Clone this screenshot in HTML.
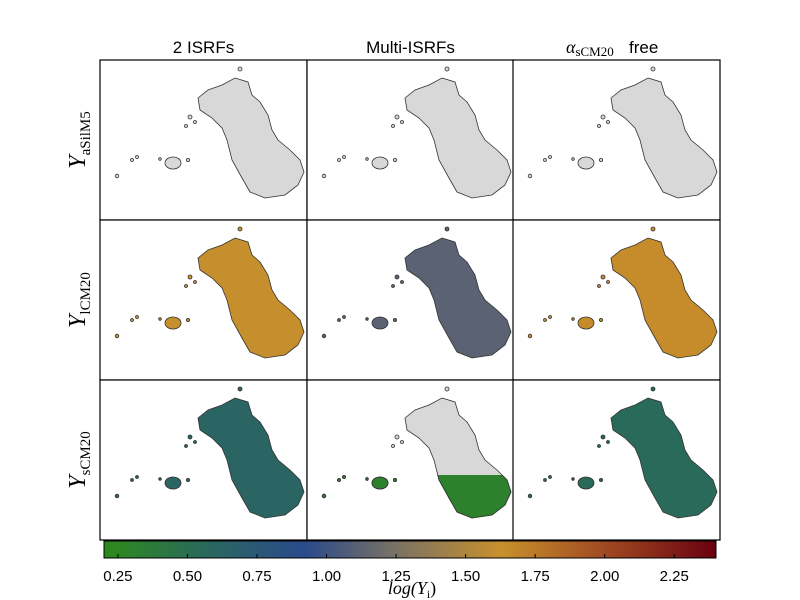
<!DOCTYPE html>
<html><head><meta charset="utf-8"><style>
body{margin:0;background:#fff;}
svg{display:block;font-family:"Liberation Sans",sans-serif;}
</style></head><body>
<svg id="fig" width="800" height="600" viewBox="0 0 800 600">
<defs>
<linearGradient id="cmap" x1="0" x2="1" y1="0" y2="0"></linearGradient>
<g id="mapshape">
<path d="M135,18 L148,22 L152,35 L160,42 L168,55 L172,70 L178,80 L190,90 L200,100 L204,112 L198,125 L185,135 L165,138 L150,132 L142,118 L132,100 L127,80 L122,68 L112,58 L100,50 L98,38 L108,30 L122,25 Z"/>
<ellipse cx="73" cy="103" rx="8" ry="6"/>
<circle cx="17" cy="116" r="1.8"/><circle cx="32" cy="100" r="1.5"/><circle cx="37" cy="97" r="1.5"/>
<circle cx="90" cy="57" r="2"/><circle cx="95" cy="62" r="1.5"/><circle cx="86" cy="66" r="1.5"/>
<circle cx="60" cy="99" r="1.3"/><circle cx="88" cy="100" r="1.6"/><circle cx="140" cy="9" r="2"/>
</g>
<clipPath id="lowerclip"><rect x="0" y="95" width="207" height="65"/></clipPath>
</defs>
<g id="panels"></g>
<g id="labels"></g>
<rect x="104" y="541" width="612" height="17" fill="url(#cmap)" stroke="#000" stroke-width="1"/>
<g id="cbticks"></g>
<text x="412" y="594" text-anchor="middle" font-family="Liberation Serif,serif" font-style="italic" font-size="18">log(Y<tspan font-style="normal" font-size="12" dy="4">i</tspan><tspan dy="-4" font-style="normal">)</tspan></text>
</svg>
<script>
const cbTicks=[0.25,0.5,0.75,1.0,1.25,1.5,1.75,2.0,2.25];
const colTitles=["2 ISRFs","Multi-ISRFs"];
const rowNames=["aSilM5","lCM20","sCM20"];
const panelValues=[[null,null,null],[1.62,1.12,1.65],[0.62,null,0.55]];
const lowerValues=[[null,null,null],[null,null,null],[null,0.3,null]];
const vmin=0.2,vmax=2.4;
const stops=[[0.2,"#2e8a1a"],[0.55,"#2a6a5a"],[0.92,"#2a4a8c"],[1.25,"#7a7264"],[1.63,"#c8902c"],[2.0,"#a04a22"],[2.4,"#6a0010"]];
const NS="http://www.w3.org/2000/svg";
function xCb(v){return 104+(v-vmin)/(vmax-vmin)*612;}
function hex(h){return [1,3,5].map(i=>parseInt(h.substr(i,2),16));}
function cmap(v){for(let i=1;i<stops.length;i++){if(v<=stops[i][0]){const a=stops[i-1],b=stops[i];const t=(v-a[0])/(b[0]-a[0]);const c1=hex(a[1]),c2=hex(b[1]);return "rgb("+c1.map((c,k)=>Math.round(c+(c2[k]-c)*t)).join(",")+")";}}return stops[stops.length-1][1];}
const grad=document.getElementById("cmap");
stops.forEach(s=>{const st=document.createElementNS(NS,"stop");st.setAttribute("offset",((s[0]-vmin)/(vmax-vmin)));st.setAttribute("stop-color",s[1]);grad.appendChild(st);});
const cbt=document.getElementById("cbticks");
cbTicks.forEach(v=>{const x=xCb(v);
const l=document.createElementNS(NS,"line");l.setAttribute("x1",x);l.setAttribute("x2",x);l.setAttribute("y1",554);l.setAttribute("y2",558);l.setAttribute("stroke","#000");


cbt.appendChild(l);
const t=document.createElementNS(NS,"text");t.setAttribute("x",x);t.setAttribute("y",581);t.setAttribute("text-anchor","middle");t.setAttribute("font-size","15");t.textContent=v.toFixed(2);


cbt.appendChild(t);});
const colX=[100,307,513],rowY=[60,220,380],W=207,H=160;
const pg=document.getElementById("panels");
for(let r=0;r<3;r++)for(let c=0;c<3;c++){
const g=document.createElementNS(NS,"g");g.setAttribute("transform","translate("+colX[c]+","+rowY[r]+")");


const bg=document.createElementNS(NS,"rect");bg.setAttribute("width",W);bg.setAttribute("height",H);bg.setAttribute("fill","#fff");g.appendChild(bg);
const u=document.createElementNS(NS,"use");u.setAttribute("href","#mapshape");
const v=panelValues[r][c];
u.setAttribute("fill",v===null?"#d8d8d8":cmap(v));u.setAttribute("stroke","#333");u.setAttribute("stroke-width","0.8");


g.appendChild(u);
const lv=lowerValues[r][c];
if(lv!==null){const u2=document.createElementNS(NS,"use");u2.setAttribute("href","#mapshape");u2.setAttribute("fill",cmap(lv));u2.setAttribute("stroke","#333");u2.setAttribute("stroke-width","0.8");u2.setAttribute("clip-path","url(#lowerclip)");


g.appendChild(u2);}
const fr=document.createElementNS(NS,"rect");fr.setAttribute("width",W);fr.setAttribute("height",H);fr.setAttribute("fill","none");fr.setAttribute("stroke","#000");fr.setAttribute("stroke-width","1.2");g.appendChild(fr);
pg.appendChild(g);}
const lg=document.getElementById("labels");
colTitles.forEach((s,i)=>{const t=document.createElementNS(NS,"text");t.setAttribute("x",colX[i]+W/2);t.setAttribute("y",53);t.setAttribute("text-anchor","middle");t.setAttribute("font-size","17");t.textContent=s;


lg.appendChild(t);});
const a=document.createElementNS(NS,"text");a.setAttribute("x",566);a.setAttribute("y",53);a.setAttribute("font-family","Liberation Serif,serif");a.setAttribute("font-style","italic");a.setAttribute("font-size","18");a.textContent="α";
const sub=document.createElementNS(NS,"tspan");sub.setAttribute("font-size","13");sub.setAttribute("font-style","normal");sub.setAttribute("dy","3");sub.textContent="sCM20";a.appendChild(sub);


lg.appendChild(a);
const fr=document.createElementNS(NS,"text");fr.setAttribute("x",629);fr.setAttribute("y",53);fr.setAttribute("font-size","17");fr.textContent="free";


lg.appendChild(fr);
rowNames.forEach((s,i)=>{const t=document.createElementNS(NS,"text");const cy=rowY[i]+H/2;t.setAttribute("transform","translate(85,"+cy+") rotate(-90)");t.setAttribute("text-anchor","middle");t.setAttribute("font-family","Liberation Serif,serif");t.setAttribute("font-size","24");t.setAttribute("font-style","italic");t.textContent="Y";
const sp=document.createElementNS(NS,"tspan");sp.setAttribute("font-size","15");sp.setAttribute("font-style","normal");sp.setAttribute("dy","5");sp.textContent=s;t.appendChild(sp);


lg.appendChild(t);});
</script>
</body></html>
